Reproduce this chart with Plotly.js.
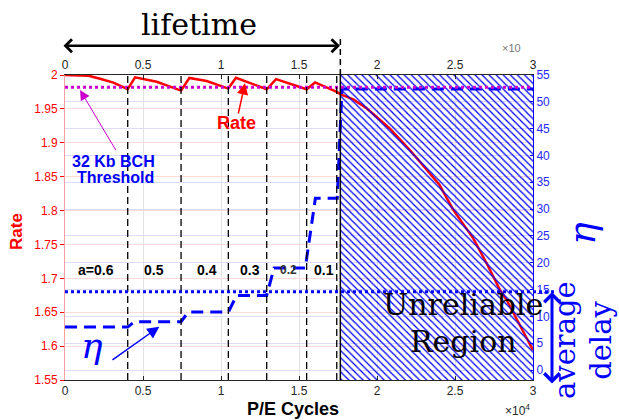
<!DOCTYPE html>
<html><head><meta charset="utf-8">
<script src="https://cdn.plot.ly/plotly-3.0.1.min.js"></script>
<style>html,body{margin:0;padding:0;background:#fff}</style>
</head><body><div id="chart" style="width:619px;height:420px"></div>
<script>
// ---- data ----
const peCycles   = [0, 1000, 1500, 2250, 3100, 4020, 4490, 5880, 7440, 7970, 9080, 10470, 10960, 12930, 13530, 15490, 16030, 17420, 17670, 18480, 19330, 19980, 20830, 22120, 23180, 24000, 24890, 26170, 27030, 27880, 28310, 30000];
const rateValues = [2.0, 2.0, 1.999, 1.9945, 1.9887, 1.979, 1.9966, 1.990, 1.977, 1.9956, 1.9911, 1.980, 1.996, 1.979, 1.994, 1.979, 1.989, 1.975, 1.9715, 1.964, 1.951, 1.938, 1.921, 1.889, 1.860, 1.838, 1.801, 1.759, 1.722, 1.683, 1.668, 1.594];
const etaCycles  = [0, 4020, 4450, 7440, 7900, 10470, 11000, 12930, 13400, 15400, 16050, 17450, 17750, 30000];
const etaValues  = [8, 8, 9, 9, 10.8, 10.8, 13.9, 13.9, 19, 19, 32, 32, 52.4, 52.4];
const switchPoints = [4020, 7440, 10470, 12930, 15490, 17420];
const codeRateLabels = ['a=0.6', '0.5', '0.4', '0.3', '0.2', '0.1'];
const labelCycles = [1990, 5700, 9100, 11860, 14300, 16600];
const bchThreshold = [1.982];
const avgDelay = [14.6];
const unreliableRange = [17650, 30000];
const rateRange = [1.55, 2.0];
const xTickVals = [0, 5000, 10000, 15000, 20000, 25000, 30000];
const xTickText = ['0', '0.5', '1', '1.5', '2', '2.5', '3'];
const rateTicks = [1.55, 1.6, 1.65, 1.7, 1.75, 1.8, 1.85, 1.9, 1.95, 2];
const etaTicks = [0, 5, 10, 15, 20, 25, 30, 35, 40, 45, 50, 55];

const RED = '#ff0000', BLUE = '#0000ff', MAG = '#cc00cc', DARK = '#262626';
const SERIF = 'DejaVu Serif, serif';
const SANS = 'Liberation Sans, Arial, sans-serif';

const u0 = unreliableRange[0], u1 = unreliableRange[1];
const traces = [
  {x: peCycles, y: rateValues, xaxis: 'x', yaxis: 'y', type: 'scatter', mode: 'lines',
   line: {color: RED, width: 2.5}, hoverinfo: 'skip'},
  {x: [u0, u1, u1, u0, u0], y: [rateRange[0], rateRange[0], rateRange[1], rateRange[1], rateRange[0]],
   xaxis: 'x', yaxis: 'y', type: 'scatter', mode: 'lines', fill: 'toself',
   fillcolor: 'rgba(0,0,0,0)', line: {width: 0, color: 'rgba(0,0,0,0)'},
   fillpattern: {shape: '\\', fgcolor: BLUE, bgcolor: 'rgba(0,0,0,0)', size: 5, solidity: 0.25},
   hoverinfo: 'skip'},
  {x: [0, 30000], y: [bchThreshold[0], bchThreshold[0]], xaxis: 'x2', yaxis: 'y', type: 'scatter',
   mode: 'lines', line: {color: MAG, width: 3, dash: 'dot'}, hoverinfo: 'skip'},
  {x: etaCycles, y: etaValues, xaxis: 'x', yaxis: 'y2', type: 'scatter', mode: 'lines',
   line: {color: BLUE, width: 3, dash: '12px,7px'}, hoverinfo: 'skip'}
];

const shapes = switchPoints.map(v => ({type: 'line', xref: 'x', yref: 'paper', x0: v, x1: v, y0: 0, y1: 1,
  line: {color: '#000', width: 1.3, dash: '7px,4px'}}));
shapes.push({type: 'line', xref: 'x', yref: 'paper', x0: u0, x1: u0, y0: 0, y1: 1, line: {color: '#000', width: 1.5}});
shapes.push({type: 'line', xref: 'x', yref: 'paper', x0: u0, x1: u0, y0: 1, y1: 1.131, line: {color: '#000', width: 1.5, dash: '6px,4px'}});
shapes.push({type: 'line', xref: 'paper', yref: 'y2', x0: 0, x1: 1.051, y0: avgDelay[0], y1: avgDelay[0],
  line: {color: BLUE, width: 3, dash: 'dot'}});

const ann = [];
function label(x, y, text, font, extra) {
  ann.push(Object.assign({xref: 'paper', yref: 'paper', x: x, y: y, text: text, showarrow: false,
    xanchor: 'center', yanchor: 'middle', font: font}, extra || {}));
}
function arrow(x, y, ax, ay, color, width, head, size, extra) {
  ann.push(Object.assign({xref: 'paper', yref: 'paper', x: x, y: y, ax: ax, ay: ay, axref: 'pixel', ayref: 'pixel',
    text: '', showarrow: true, arrowhead: head, arrowsize: size, arrowwidth: width, arrowcolor: color,
    standoff: 0, xanchor: 'center', yanchor: 'middle'}, extra || {}));
}
codeRateLabels.forEach((t, i) => ann.push({xref: 'x', yref: 'paper', x: labelCycles[i], y: 0.3607,
  xanchor: 'center', yanchor: 'middle', text: '<b>' + t + '</b>', showarrow: false,
  font: {family: SANS, size: i === 4 ? 12 : 14, color: i === 4 ? '#333' : '#000'}}));
// lifetime arrow + label
arrow(0.5876, 1.0961, -278, 0, '#000', 2.5, 4, 1,
  {arrowside: 'end+start', startarrowhead: 4, startarrowsize: 1, startstandoff: 0});
label(0.2863, 1.1652, 'lifetime', {family: SERIF, size: 30, color: '#000'});
// threshold label + arrow
arrow(0.0321, 0.9508, 36.7, 61.7, MAG, 1, 2, 2);
label(0.1036, 0.7180, '<b>32 Kb BCH</b>', {family: SANS, size: 16, color: BLUE});
label(0.1079, 0.6633, '<b>Threshold</b>', {family: SANS, size: 16, color: BLUE});
// Rate label + arrow
arrow(0.3846, 0.9728, -7, 31.7, RED, 1.5, 2, 1.5);
label(0.3675, 0.8436, '<b>Rate</b>', {family: SANS, size: 18, color: RED});
// eta label + arrow
arrow(0.2015, 0.1748, -48.3, 34.3, BLUE, 1.5, 2, 1.6);
label(0.0577, 0.1115, '<i>η</i>', {family: SERIF, size: 36, color: BLUE});
// Unreliable region
label(0.8513, 0.2472, 'Unreliable', {family: SERIF, size: 30, color: '#000'});
label(0.8511, 0.1269, 'Region', {family: SERIF, size: 30, color: '#000'});
// axis titles
label(-0.1036, 0.4869, '<b>Rate</b>', {family: SANS, size: 17, color: RED}, {textangle: -90});
label(0.4872, -0.0944, '<b>P/E Cycles</b>', {family: SANS, size: 18, color: '#000'});
label(0.9359, -0.097, '×10<sup>4</sup>', {family: SANS, size: 12, color: DARK}, {xanchor: 'left'});
label(0.9295, 1.0885, '×10', {family: SANS, size: 11, color: '#777'}, {xanchor: 'left'});
label(1.1047, 0.482, '<i>η</i>', {family: SERIF, size: 38, color: BLUE}, {textangle: -90});
label(1.0684, 0.1311, 'average', {family: SERIF, size: 29, color: BLUE}, {textangle: -90});
label(1.145, 0.1311, 'delay', {family: SERIF, size: 29, color: BLUE}, {textangle: -90});
arrow(1.0406, 0.2885, 0, 93, BLUE, 3, 4, 1,
  {arrowside: 'end+start', startarrowhead: 4, startarrowsize: 1, startstandoff: 0});

const layout = {
  width: 619, height: 420,
  margin: {l: 65, r: 86, t: 75, b: 40, pad: 0},
  paper_bgcolor: '#fff', plot_bgcolor: '#fff', showlegend: false,
  font: {family: SANS, size: 12, color: DARK},
  xaxis: {range: [0, 30000], tickvals: xTickVals, ticktext: xTickText, ticks: 'inside', ticklen: 4, tickcolor: DARK,
    showline: true, linecolor: DARK, linewidth: 1, showgrid: true, gridcolor: '#e2e2e2', zeroline: false,
    tickfont: {family: SANS, size: 12, color: DARK}},
  xaxis2: {overlaying: 'x', side: 'top', range: [0, 30000], tickvals: xTickVals, ticktext: xTickText, ticks: 'inside',
    ticklen: 4, tickcolor: DARK, showline: true, linecolor: DARK, linewidth: 1, showgrid: false, zeroline: false,
    tickfont: {family: SANS, size: 12, color: DARK}},
  yaxis: {range: rateRange, tickvals: rateTicks, ticks: 'outside', ticklen: 4, tickcolor: RED,
    showline: true, linecolor: '#f5a0a0', linewidth: 1, showgrid: true, gridcolor: '#fadada', zeroline: false,
    tickfont: {family: SANS, size: 12, color: RED}},
  yaxis2: {overlaying: 'y', side: 'right', range: [-1.865, 55], tickvals: etaTicks, ticks: 'inside', ticklen: 3,
    tickcolor: BLUE, showline: true, linecolor: BLUE, linewidth: 1, showgrid: true, gridcolor: '#dcdcfa', zeroline: false,
    tickfont: {family: SANS, size: 12, color: '#2a2aff'}},
  shapes: shapes,
  annotations: ann
};

Plotly.newPlot('chart', traces, layout, {staticPlot: true, displayModeBar: false});
</script>
</body></html>
